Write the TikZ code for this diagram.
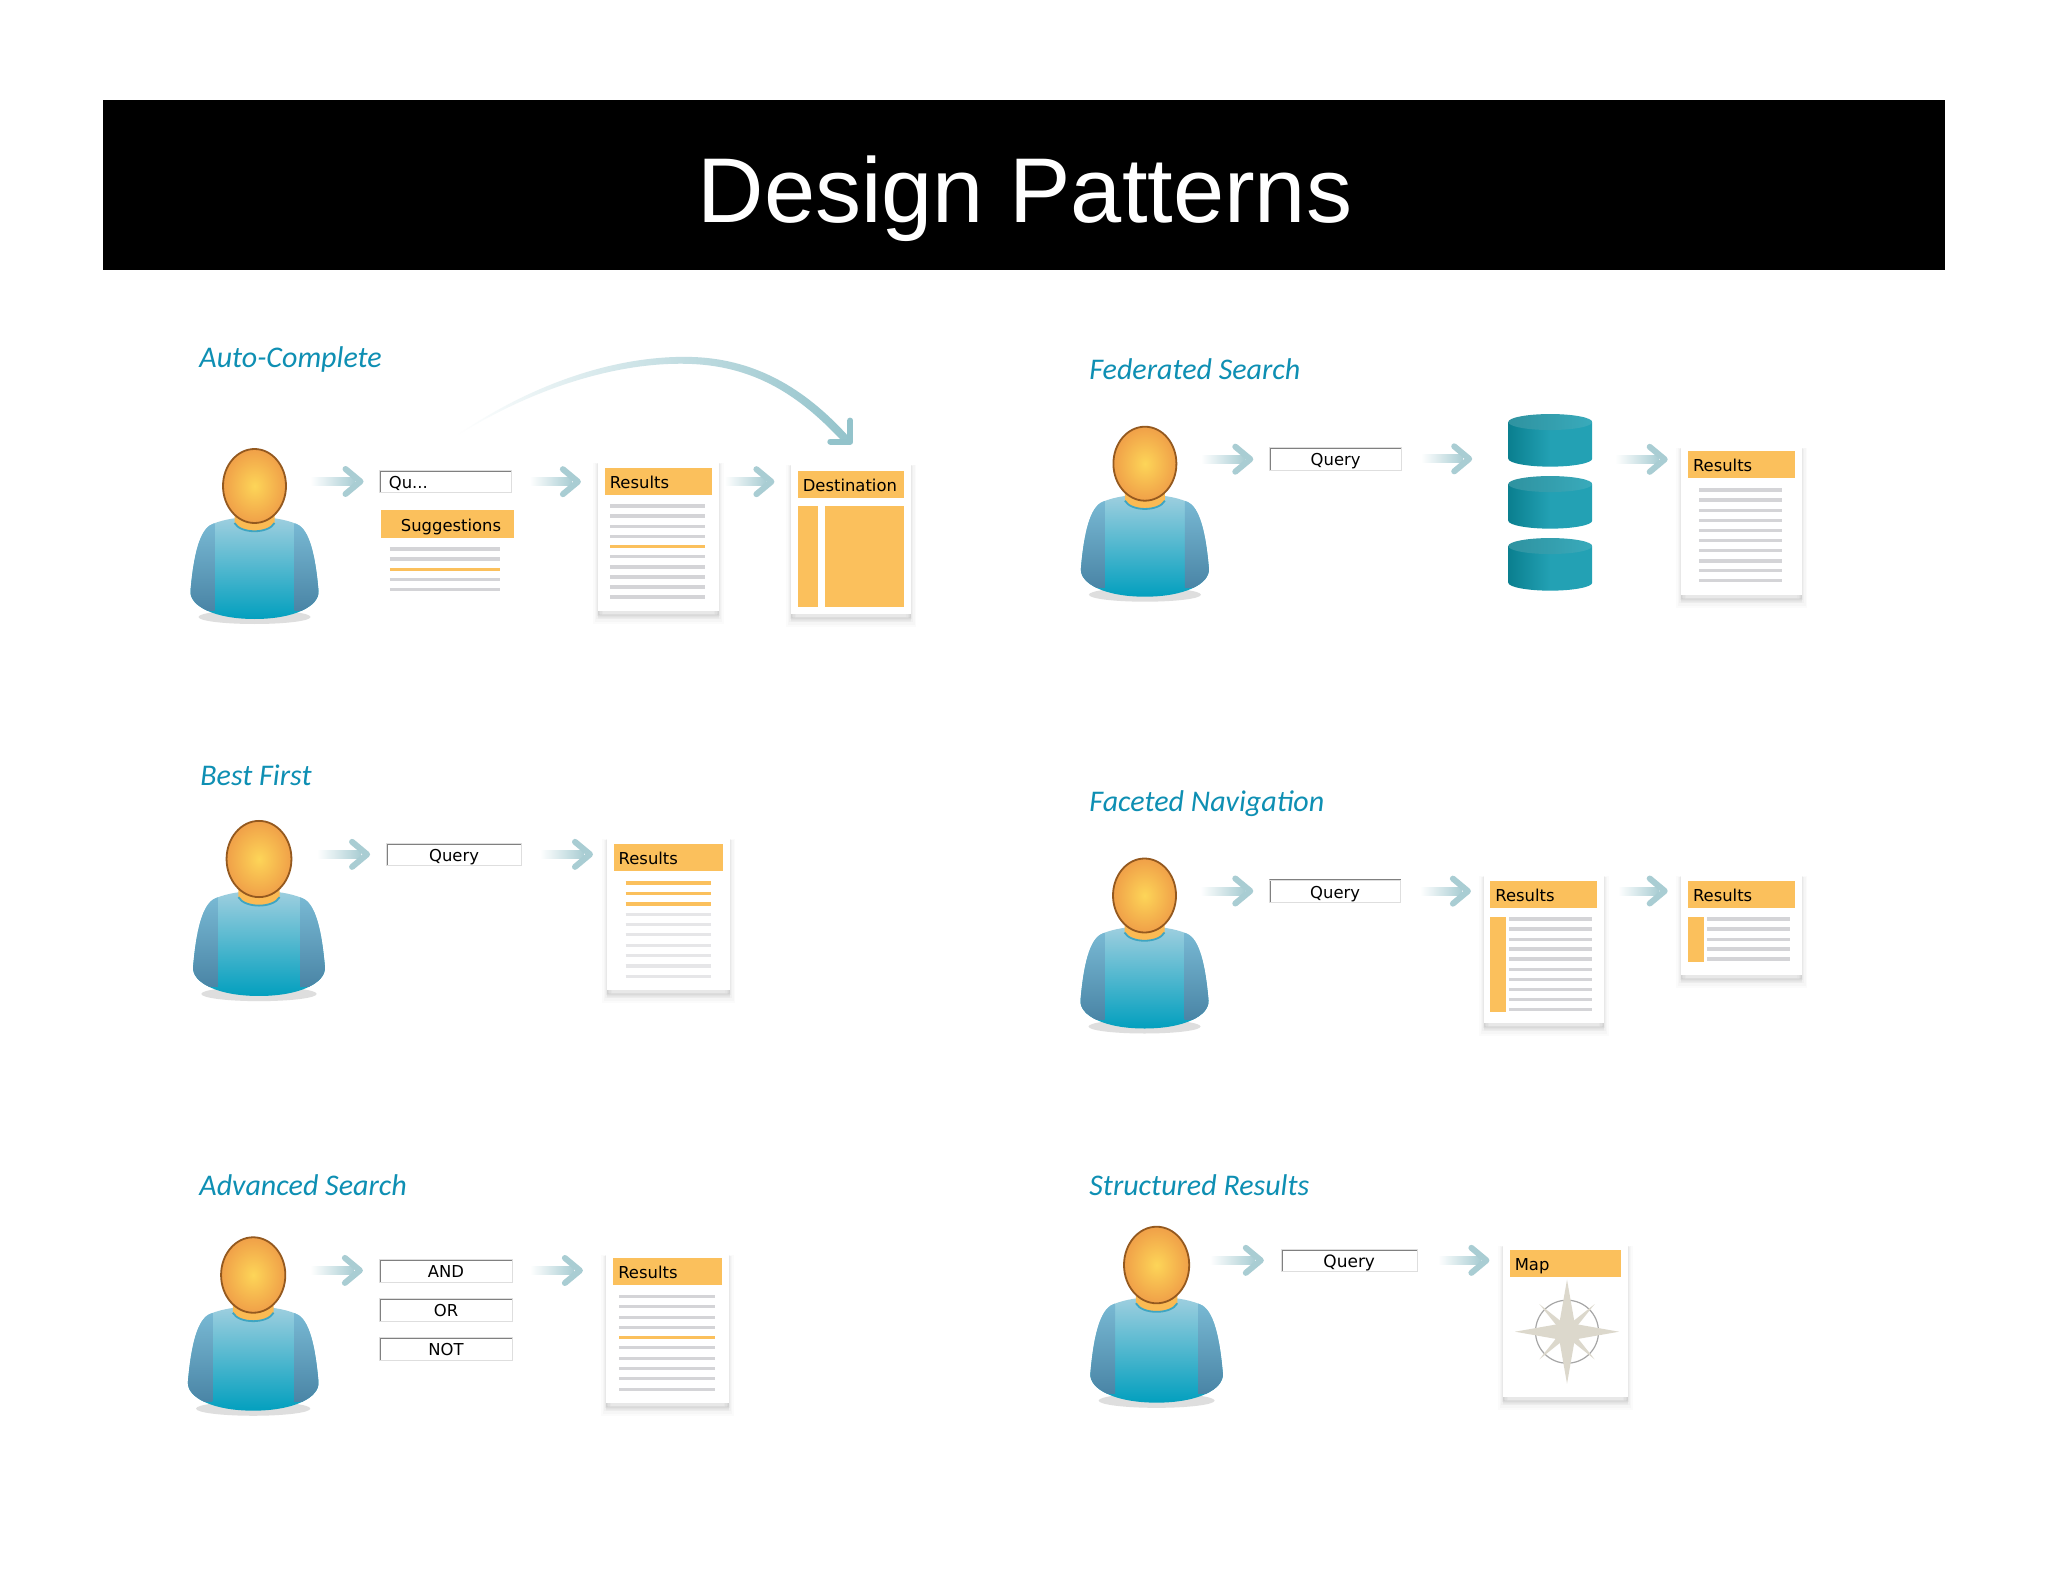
\documentclass[tikz,border=0pt]{standalone}
\usepackage{fontspec}
\setmainfont{DejaVu Sans}
\newfontfamily\titlefont{Liberation Sans}
\newfontfamily\headfont{Carlito}
\usetikzlibrary{shadows}
\definecolor{headteal}{HTML}{0E8FB3}
\definecolor{hdrorange}{HTML}{FBC05C}
\definecolor{rulegrey}{HTML}{D4D4D7}
\definecolor{palegrey}{HTML}{E6E6E8}
\definecolor{flowteal}{HTML}{A9CDD3}
\definecolor{jumpteal}{HTML}{93C3CB}
\definecolor{headbrown}{HTML}{94591F}
\definecolor{headin}{HTML}{FDD558}
\definecolor{headout}{HTML}{F0A048}
\definecolor{bodytop}{HTML}{A3D0E0}
\definecolor{bodymid}{HTML}{58B2CC}
\definecolor{bodybot}{HTML}{019FBE}
\definecolor{sidetop}{HTML}{7DBED8}
\definecolor{sidebot}{HTML}{4A85A6}
\definecolor{dbdark}{HTML}{0A7F8F}
\definecolor{dbmid}{HTML}{23A1B4}
\definecolor{startone}{HTML}{DCD8CC}
\tikzset{
  labelfont/.style={font=\fontsize{8.2}{10}\selectfont},
  heading/.style={anchor=base west,inner sep=0pt,text=headteal,font=\headfont\itshape\fontsize{15}{18}\selectfont},
  pagebox/.style={fill=white,inner sep=0pt,
    general shadow={fill=black,draw=black,line width=5pt,opacity=.015,shadow yshift=-4pt},
    general shadow={fill=black,draw=black,line width=3.5pt,opacity=.02,shadow yshift=-3.5pt},
    general shadow={fill=black,draw=black,line width=2pt,opacity=.025,shadow yshift=-3pt},
    general shadow={fill=black,draw=black,line width=1pt,opacity=.03,shadow yshift=-2pt}},
  hdr/.style={fill=hdrorange,inner xsep=2.5pt,inner ysep=0pt,minimum height=13.6pt,text width=#1,
    align=left,text height=7.8pt,text depth=.8pt,labelfont},
  qbox/.style={fill=white,draw=black!13,line width=.4pt,inner ysep=0pt,minimum height=11.2pt,
    text height=7.8pt,text depth=.8pt,labelfont,
    path picture={\draw[black!50,line width=1.5pt]
      (path picture bounding box.south west) |- (path picture bounding box.north east);}},
  greyrule/.style={rulegrey,line width=1.7pt},
  palerule/.style={palegrey,line width=1.7pt},
  hotrule/.style={hdrorange,line width=1.7pt},
  flowshaft/.style={left color=white,right color=flowteal},
  flowhead/.style={flowteal,line width=3pt,line cap=round,line join=round},
  personfig/.pic={
    \fill[black!13] (0,131) ellipse (56 and 7);
    \begin{scope}
      \clip (0,31) .. controls (-15,31) and (-30,33) .. (-42,38) .. controls (-55,43) and (-61,70) .. (-64,105)
        .. controls (-65,120) and (-40,133) .. (0,133) .. controls (40,133) and (65,120) .. (64,105)
        .. controls (61,70) and (55,43) .. (42,38) .. controls (30,33) and (15,31) .. (0,31) -- cycle;
      \shade[top color=bodytop,middle color=bodymid,bottom color=bodybot] (-70,28) rectangle (70,134);
      \shade[top color=sidetop,bottom color=sidebot] (-70,28) rectangle (-40,124);
      \shade[top color=sidetop,bottom color=sidebot] (40,28) rectangle (70,124);
    \end{scope}
    \fill[hdrorange!90!orange] (-20,25) -- (-20,37) .. controls (-14,48) and (14,48) .. (20,37) -- (20,25) -- cycle;
    \draw[headteal!80!white,line width=.9pt] (-20,37) .. controls (-14,48) and (14,48) .. (20,37);
    \shadedraw[inner color=headin,outer color=headout,draw=headbrown,line width=.9pt] (0,0) ellipse (31.5 and 37);
    \coordinate (-arm) at (60,-4.5);
  },
  dbdisk/.pic={
    \shade[left color=dbdark,right color=dbmid,middle color=dbmid]
      (-42,-18.3) -- (-42,18.3) arc (180:0:42 and 8) -- (42,-18.3) -- cycle;
    \shade[left color=dbdark!85!white,right color=dbmid!90!white] (0,-18.3) ellipse (42 and 8);
    \coordinate (-w) at (-42,0);
    \coordinate (-e) at (42,0);
  }
}
% one shaded arrow: starts at #1, its tip is level with #1 at the x of #2
\newcommand{\flowarrow}[2]{%
  \coordinate (fa) at (#1);
  \coordinate (fb) at (#2);
  \coordinate (fe) at (fa -| fb);
  \shade[flowshaft] ([shift={(-4,-4)}]fa) rectangle ([shift={(-9,4)}]fe);
  \draw[flowhead] ([shift={(-18,-12.5)}]fe) -- ([shift={(-3,0)}]fe) -- ([shift={(-18,12.5)}]fe);
}
\begin{document}
\begin{tikzpicture}[x=0.5pt,y=-0.5pt]
  \useasboundingbox (0,0) rectangle (2048,1582);
  \fill[white] (0,0) rectangle (2048,1582);
  % banner
  \fill[black] (103,100.5) rectangle (1945,270);
  \node[text=white,anchor=base,inner sep=0pt,font=\titlefont\fontsize{46}{50}\selectfont] (title) at (1025,223) {Design Patterns};

  % auto-complete
  \node[heading] (achead) at (199,368) {Auto-Complete};
  \pic (acu) at (254.5,486) {personfig};
  \node[qbox,text width=56.4pt,inner xsep=4.75pt,align=left] (acq) at (445.3,481.7) {Qu...};
  \node[hdr=61.7pt] (acsug) at (447.6,524) {\hspace*{7.5pt}Suggestions};
  \foreach \ly in {549,559,579.3,589.3} \draw[greyrule] (389.8,\ly) -- (499.8,\ly);
  \draw[hotrule] (389.8,569.3) -- (499.8,569.3);
  \node[pagebox,minimum width=60.2pt,minimum height=75.5pt] (acres) at (658.5,535.5) {};
  \node[hdr=48.7pt] (acresh) at (658.5,481.5) {Results};
  \foreach \ly in {506,516,526.3,536.3,556.7,567,577,587,597} \draw[greyrule] (610.2,\ly) -- (705.3,\ly);
  \draw[hotrule] (610.2,546.3) -- (705.3,546.3);
  \node[pagebox,minimum width=60pt,minimum height=76pt] (acdest) at (851.3,538) {};
  \node[hdr=48.2pt] (acdesth) at (851,484.5) {Destination};
  \fill[hdrorange] (798.3,506) rectangle (817.7,606.7);
  \fill[hdrorange] (825.2,506) rectangle (904.3,606.7);
  \flowarrow{acu-arm}{[shift={(-15.5,0)}]acq.west}
  \flowarrow{[shift={(22,0)}]acq.east}{[shift={(-17,0)}]acres.west}
  \flowarrow{[shift={(9.5,-53.8)}]acres.east}{[shift={(-16.5,0)}]acdest.west}
  \coordinate (acjump) at (456,436);
  \shade[left color=white,middle color=flowteal!90!white,right color=jumpteal]
    (acjump) .. controls (540,378) and (625,355) .. (692,357) .. controls (760,359) and (810,393) .. ([shift={(0,-22)}]acdest.north)
    -- ([shift={(-7,-18)}]acdest.north) .. controls (804,400) and (760,367) .. (692,364)
    .. controls (625,361) and (540,384) .. (acjump) -- cycle;
  \draw[flowhead,jumpteal] ([shift={(-1,-41)}]acdest.north) -- ([shift={(-1,-20)}]acdest.north) -- ([shift={(-21,-20)}]acdest.north);

  % federated search
  \node[heading] (fshead) at (1089,380) {Federated Search};
  \pic (fsu) at (1144.9,463.7) {personfig};
  \node[qbox,minimum width=66.2pt] (fsq) at (1335.6,458.85) {Query};
  \pic (fsdb1) at (1550.2,440.35) {dbdisk};
  \pic (fsdb2) at (1550.2,502.35) {dbdisk};
  \pic (fsdb3) at (1550.2,564.35) {dbdisk};
  \node[pagebox,minimum width=60.6pt,minimum height=75pt] (fsres) at (1741.7,520) {};
  \node[hdr=48.4pt] (fsresh) at (1741.4,464.85) {Results};
  \foreach \ly in {490,500,510.3,520.3,530.3,540.7,550.7,561,570.7,580.7} \draw[greyrule] (1699.4,\ly) -- (1782.2,\ly);
  \flowarrow{fsu-arm}{[shift={(-15.7,0)}]fsq.west}
  \flowarrow{[shift={(23,0)}]fsq.east}{[shift={(-36,0)}]fsdb1-w}
  \flowarrow{[shift={(27,19)}]fsdb1-e}{[shift={(-13,0)}]fsres.west}

  % best first
  \node[heading] (bfhead) at (200,785) {Best First};
  \pic[scale=1.03] (bfu) at (259,859) {personfig};
  \node[qbox,minimum width=67.6pt] (bfq) at (454.1,854.35) {Query};
  \node[pagebox,minimum width=61.5pt,minimum height=77pt] (bfres) at (668.5,913) {};
  \node[hdr=49.65pt] (bfresh) at (668.35,857.65) {Results};
  \foreach \ly in {883,893.3,904} \draw[hotrule] (625.5,\ly) -- (711.4,\ly);
  \foreach \ly in {914.3,924.3,934.7,945.3,955.7,966,976.3} \draw[palerule] (625.5,\ly) -- (711.4,\ly);
  \flowarrow{bfu-arm}{[shift={(-16,0)}]bfq.west}
  \flowarrow{[shift={(22,0)}]bfq.east}{[shift={(-13.6,0)}]bfres.west}

  % faceted navigation
  \node[heading] (fnhead) at (1089,811) {Faceted Navigation};
  \pic (fnu) at (1144.5,895.5) {personfig};
  \node[qbox,minimum width=65.7pt] (fnq) at (1335.1,891.15) {Query};
  \node[pagebox,minimum width=59.6pt,minimum height=75pt] (fnres) at (1543.9,948) {};
  \node[hdr=48.4pt] (fnresh) at (1543.7,894.35) {Results};
  \fill[hdrorange] (1490.3,917) rectangle (1506.2,1012);
  \foreach \ly in {919,929,939.3,949,959,969.3,979.7,989.7,999.7,1009.7} \draw[greyrule] (1509.2,\ly) -- (1592.2,\ly);
  \node[pagebox,minimum width=60.6pt,minimum height=51pt] (fnsub) at (1741.7,924) {};
  \node[hdr=48.4pt] (fnsubh) at (1741.4,894.35) {Results};
  \fill[hdrorange] (1688,917) rectangle (1703.9,961.7);
  \foreach \ly in {919,929,939.3,949,959} \draw[greyrule] (1706.9,\ly) -- (1790.4,\ly);
  \flowarrow{fnu-arm}{[shift={(-15.7,0)}]fnq.west}
  \flowarrow{[shift={(23,0)}]fnq.east}{[shift={(-13,0)}]fnres.west}
  \flowarrow{[shift={(18,-57)}]fnres.east}{[shift={(-13,0)}]fnsub.west}

  % advanced search
  \node[heading] (ashead) at (199,1195) {Advanced Search};
  \pic[scale=1.02] (asu) at (253.2,1275) {personfig};
  \node[qbox,minimum width=66.7pt,minimum height=11.5pt] (asand) at (446,1270.5) {AND};
  \node[qbox,minimum width=66.7pt,minimum height=11.5pt] (asor) at (446,1309.85) {OR};
  \node[qbox,minimum width=66.7pt,minimum height=11.5pt] (asnot) at (446,1348.85) {NOT};
  \node[pagebox,minimum width=61.3pt,minimum height=75.5pt] (asres) at (667.6,1327.5) {};
  \node[hdr=49.3pt] (asresh) at (667.6,1271.85) {Results};
  \foreach \ly in {1296.7,1306.7,1317.7,1327.7,1347.7,1358.3,1368.7,1378.7,1389.3} \draw[greyrule] (619.3,\ly) -- (714.9,\ly);
  \draw[hotrule] (619.3,1337.7) -- (714.9,1337.7);
  \flowarrow{asu-arm}{[shift={(-16,0)}]asand.west}
  \flowarrow{[shift={(21,0)}]asand.east}{[shift={(-23,0)}]asres.west}

  % structured results
  \node[heading] (srhead) at (1089,1195) {Structured Results};
  \pic[scale=1.035] (sru) at (1156.6,1265) {personfig};
  \node[qbox,minimum width=68pt,font=\fontsize{8.5}{10}\selectfont] (srq) at (1349.2,1260.35) {Query};
  \node[pagebox,minimum width=62.3pt,minimum height=77.3pt] (srmap) at (1565.6,1320) {};
  \node[hdr=50.4pt] (srmaph) at (1565.2,1263.85) {Map};
  \begin{scope}[shift={(1567,1331.7)}]
    \draw[black!35,line width=.6pt] (0,0) circle (31.5);
    \foreach \a in {45,135,225,315} \fill[startone] (\a:39) -- (\a+22.5:9) -- (\a-22.5:9) -- cycle;
    \foreach \a in {0,90,180,270} \fill[startone] (\a:52) -- (\a+45:11) -- (\a-45:11) -- cycle;
    \fill[startone] (0,0) circle (13);
  \end{scope}
  \flowarrow{[shift={(-5,0)}]sru-arm}{[shift={(-17,0)}]srq.west}
  \flowarrow{[shift={(24.2,0)}]srq.east}{[shift={(-13.5,0)}]srmap.west}
\end{tikzpicture}
\end{document}
